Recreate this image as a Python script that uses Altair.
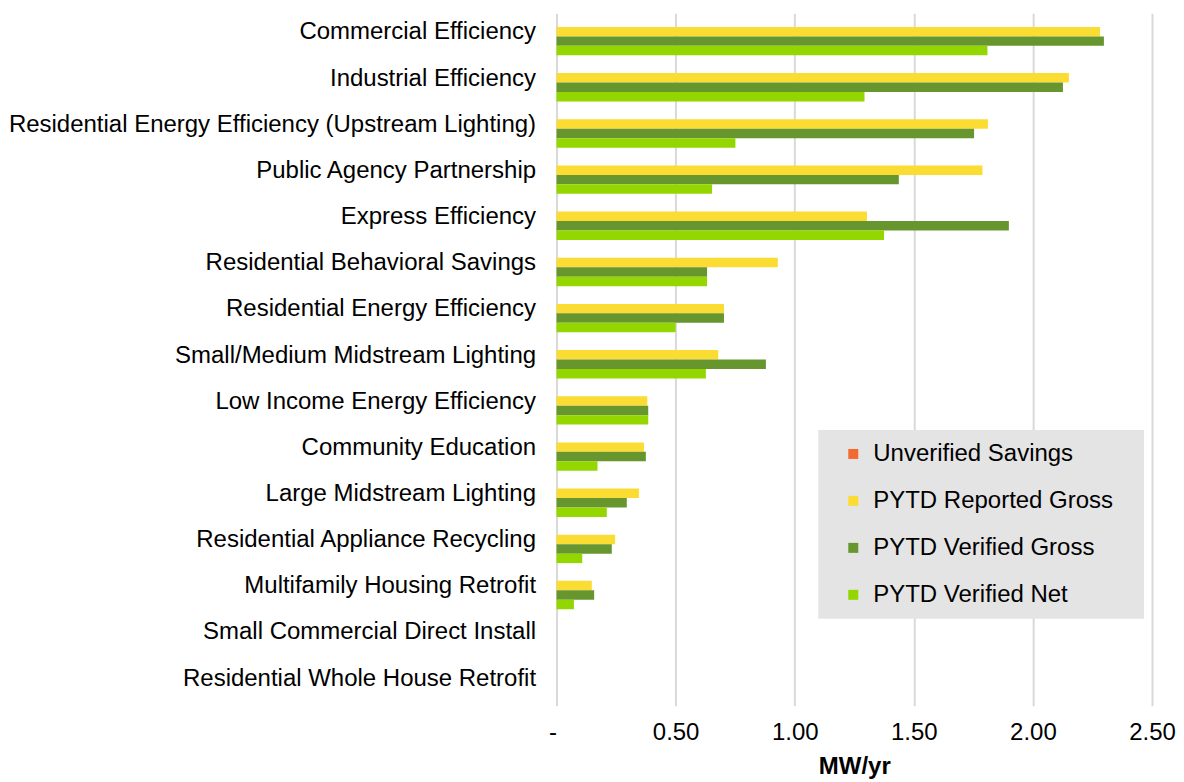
import altair as alt
import pandas as pd

categories = [
    "Commercial Efficiency",
    "Industrial Efficiency",
    "Residential Energy Efficiency (Upstream Lighting)",
    "Public Agency Partnership",
    "Express Efficiency",
    "Residential Behavioral Savings",
    "Residential Energy Efficiency",
    "Small/Medium Midstream Lighting",
    "Low Income Energy Efficiency",
    "Community Education",
    "Large Midstream Lighting",
    "Residential Appliance Recycling",
    "Multifamily Housing Retrofit",
    "Small Commercial Direct Install",
    "Residential Whole House Retrofit",
]
series = ["Unverified Savings", "PYTD Reported Gross", "PYTD Verified Gross", "PYTD Verified Net"]
colors = ["#F26A30", "#FBDC33", "#67962F", "#93D600"]

unverified = [0] * 15
reported_gross = [2.282, 2.151, 1.811, 1.788, 1.303, 0.929, 0.703, 0.679, 0.381, 0.367, 0.346, 0.246, 0.148, 0, 0]
verified_gross = [2.298, 2.126, 1.753, 1.437, 1.899, 0.632, 0.703, 0.879, 0.385, 0.375, 0.295, 0.232, 0.158, 0, 0]
verified_net = [1.809, 1.293, 0.751, 0.653, 1.375, 0.632, 0.500, 0.627, 0.385, 0.172, 0.211, 0.108, 0.073, 0, 0]
tick_values = [0, 0.5, 1.0, 1.5, 2.0, 2.5]

rows = []
for s, vals in zip(series, [unverified, reported_gross, verified_gross, verified_net]):
    for c, v in zip(categories, vals):
        rows.append({"Program": c, "Series": s, "Value": v})
df = pd.DataFrame(rows)

FONT = "Liberation Sans"
PAD = "\u2800"

chart = alt.Chart(df).mark_bar().encode(
    y=alt.Y(
        "Program:N",
        sort=categories,
        scale=alt.Scale(paddingInner=0.18, paddingOuter=0.09),
        axis=alt.Axis(
            title=None, domain=False, ticks=False, grid=False,
            labelFont=FONT, labelFontSize=24, labelColor="#000000",
            labelPadding=21, labelLimit=1000, labelOffset=-4,
        ),
    ),
    yOffset=alt.YOffset("Series:N", sort=series, scale=alt.Scale(paddingInner=0, paddingOuter=0)),
    x=alt.X(
        "Value:Q",
        scale=alt.Scale(domain=[0, 2.5], nice=False),
        axis=alt.Axis(
            values=tick_values,
            labelExpr="datum.value == 0 ? '-' : format(datum.value, '.2f')",
            labelAlign={"condition": {"test": "datum.value == 0", "value": "right"}, "value": "center"},
            labelFlush=False,
            title="MW/yr", titleFont=FONT, titleFontSize=24, titleFontWeight="bold",
            titleColor="#000000", titlePadding=10,
            labelFont=FONT, labelFontSize=24, labelColor="#000000", labelPadding=15,
            domain=False, ticks=False, grid=True, gridColor="#D9D9D9", gridWidth=2,
        ),
    ),
    color=alt.Color(
        "Series:N",
        sort=series,
        scale=alt.Scale(domain=series, range=colors),
        legend=alt.Legend(
            title=None, orient="none", legendX=262, legendY=417,
            fillColor="#E4E4E4", padding=12, symbolOffset=11,
            symbolType="square", symbolSize=100, symbolStrokeWidth=0,
            labelFont=FONT, labelFontSize=24, labelColor="#000000",
            labelOffset=8, rowPadding=23, labelLimit=1000,
            labelExpr="datum.label + '" + PAD + "'",
        ),
    ),
).properties(
    width=596, height=693,
    padding={"left": 0, "top": 5, "right": 0, "bottom": 0},
).configure_view(stroke=None)

chart.save("out.html", embed_options={"renderer": "svg", "actions": False})
